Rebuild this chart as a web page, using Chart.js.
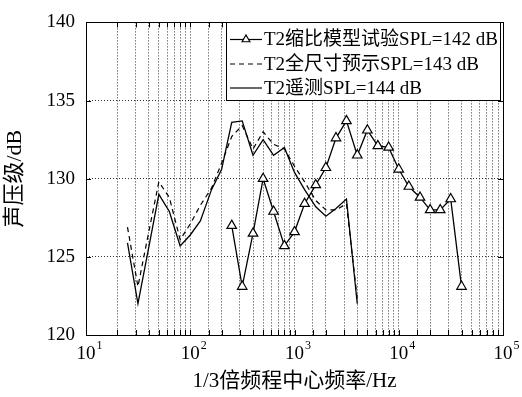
<!DOCTYPE html>
<html>
<head>
<meta charset="utf-8">
<script src="https://cdn.jsdelivr.net/npm/chart.js@4/dist/chart.umd.min.js"></script>
<style>
  html, body { margin: 0; padding: 0; background: #fff; }
  #wrap { width: 522px; height: 397px; }
</style>
</head>
<body>
<div id="wrap"><canvas id="c" width="522" height="397"></canvas></div>
<script>
// ---- data ----
const freqsFull = [25, 31.5, 40, 50, 63, 80, 100, 125, 160, 200, 250, 315, 400, 500, 630, 800, 1000, 1250, 1600, 2000, 2500, 3150, 4000];
const telemetrySPL = [125.9, 122.0, 125.6, 129.0, 127.9, 125.7, 126.4, 127.3, 129.3, 130.6, 133.6, 133.7, 131.5, 132.5, 131.5, 132.0, 130.4, 129.3, 128.2, 127.6, 128.1, 128.7, 122.0];
const predictedSPL = [126.9, 123.1, 126.6, 129.8, 128.8, 126.1, 127.1, 128.3, 129.4, 131.0, 132.7, 133.4, 131.9, 133.0, 132.2, 131.9, 130.8, 129.8, 128.6, 128.0, 128.0, 128.4, 122.3];
const freqsModel = [250, 315, 400, 500, 630, 800, 1000, 1250, 1600, 2000, 2500, 3150, 4000, 5000, 6300, 8000, 10000, 12500, 16000, 20000, 25000, 31500, 40000];
const modelSPL = [127.0, 123.1, 126.5, 130.0, 127.9, 125.7, 126.6, 128.4, 129.6, 130.7, 132.6, 133.7, 131.5, 133.1, 132.1, 132.0, 130.6, 129.5, 128.8, 128.0, 128.0, 128.7, 123.1];
const seriesNames = ['T2缩比模型试验SPL=142 dB', 'T2全尺寸预示SPL=143 dB', 'T2遥测SPL=144 dB'];
const xTickExponents = [1, 2, 3, 4, 5];
const yTicks = [120, 125, 130, 135, 140];
const xTitle = '1/3倍频程中心频率/Hz';
const yTitle = '声压级/dB';

const FONT = "'Liberation Serif','Times New Roman','Noto Sans CJK SC',serif";
Chart.defaults.color = '#000';
Chart.defaults.font.family = FONT;

const toXY = (xs, ys) => xs.map((x, i) => ({ x: x, y: ys[i] }));

const frameTicksLegend = {
  id: 'frameTicksLegend',
  afterDraw(chart) {
    const ctx = chart.ctx;
    const a = chart.chartArea;
    const xs = chart.scales.x, ys = chart.scales.y;
    ctx.save();
    // frame
    ctx.strokeStyle = '#000';
    ctx.lineWidth = 1;
    ctx.setLineDash([]);
    ctx.strokeRect(Math.round(a.left) + 0.5, Math.round(a.top) + 0.5, Math.round(a.right - a.left), Math.round(a.bottom - a.top));
    // inner ticks
    ctx.beginPath();
    xs.ticks.forEach(t => {
      const px = Math.round(xs.getPixelForValue(t.value)) + 0.5;
      ctx.moveTo(px, a.bottom); ctx.lineTo(px, a.bottom - 5);
      ctx.moveTo(px, a.top); ctx.lineTo(px, a.top + 5);
    });
    yTicks.forEach(v => {
      const py = Math.round(ys.getPixelForValue(v)) + 0.5;
      ctx.moveTo(a.left, py); ctx.lineTo(a.left + 5, py);
      ctx.moveTo(a.right, py); ctx.lineTo(a.right - 5, py);
    });
    ctx.stroke();
    // x tick labels 10^n
    ctx.fillStyle = '#000';
    ctx.textBaseline = 'middle';
    xTickExponents.forEach(e => {
      const px = xs.getPixelForValue(Math.pow(10, e));
      ctx.font = '19px ' + FONT;
      ctx.textAlign = 'center';
      const w = ctx.measureText('10').width;
      ctx.fillText('10', px, 354);
      ctx.font = '12px ' + FONT;
      ctx.textAlign = 'left';
      ctx.fillText(String(e), px + w / 2 + 1, 346);
    });
    // legend
    const lx = 226, ly = 22, lw = 274, lh = 78;
    ctx.fillStyle = '#fff';
    ctx.fillRect(lx, ly, lw, lh);
    ctx.strokeStyle = '#000';
    ctx.lineWidth = 1;
    ctx.strokeRect(lx + 0.5, ly + 0.5, lw, lh);
    const rows = [39.5, 64, 88];
    chart.data.datasets.forEach((ds, i) => {
      const y = rows[i];
      ctx.strokeStyle = '#000';
      ctx.lineWidth = 1.2;
      ctx.setLineDash(ds.borderDash || []);
      ctx.beginPath();
      ctx.moveTo(230, y); ctx.lineTo(262, y);
      ctx.stroke();
      ctx.setLineDash([]);
      if (ds.pointRadius > 0) {
        const r = 4.5, cx = 246;
        ctx.beginPath();
        for (let k = 0; k < 3; k++) {
          const ang = k * 2 * Math.PI / 3;
          const X = cx + Math.sin(ang) * r, Y = y - Math.cos(ang) * r;
          if (k === 0) ctx.moveTo(X, Y); else ctx.lineTo(X, Y);
        }
        ctx.closePath();
        ctx.fillStyle = '#fff';
        ctx.fill();
        ctx.stroke();
      }
      ctx.fillStyle = '#000';
      ctx.font = '19px ' + FONT;
      ctx.textAlign = 'left';
      ctx.textBaseline = 'middle';
      ctx.fillText(ds.label, 264, y + 1);
    });
    ctx.restore();
  }
};

new Chart(document.getElementById('c'), {
  type: 'line',
  data: {
    datasets: [
      {
        label: seriesNames[0],
        data: toXY(freqsModel, modelSPL),
        borderColor: '#000', borderWidth: 1.3,
        pointStyle: 'triangle', pointRadius: 5.5, pointBorderWidth: 1.2,
        pointBackgroundColor: '#fff', pointBorderColor: '#000',
        tension: 0
      },
      {
        label: seriesNames[1],
        data: toXY(freqsFull, predictedSPL),
        borderColor: '#000', borderWidth: 1.2, borderDash: [5, 4],
        pointRadius: 0, tension: 0
      },
      {
        label: seriesNames[2],
        data: toXY(freqsFull, telemetrySPL),
        borderColor: '#000', borderWidth: 1.3,
        pointRadius: 0, tension: 0
      }
    ]
  },
  options: {
    responsive: false,
    animation: false,
    events: [],
    layout: { padding: { top: 19, right: 19, left: 0, bottom: 0 } },
    plugins: { legend: { display: false }, tooltip: { enabled: false } },
    scales: {
      x: {
        type: 'logarithmic',
        min: 10, max: 100000,
        afterFit(s) { s.height = 62; },
        ticks: { display: false, autoSkip: false },
        grid: { color: '#333', lineWidth: 1, drawTicks: false },
        border: { display: false, dash: [1, 2] },
        title: { display: true, text: xTitle, font: { size: 21, family: FONT }, padding: { top: 0, bottom: 3 } }
      },
      y: {
        min: 120, max: 140,
        afterBuildTicks(s) { s.ticks = yTicks.map(v => ({ value: v })); },
        afterFit(s) { s.width = 86; },
        ticks: { font: { size: 19, family: FONT }, padding: 11, color: '#000' },
        grid: { color: '#333', lineWidth: 1, drawTicks: false },
        border: { display: false, dash: [1, 2] },
        title: { display: true, text: yTitle, font: { size: 22, family: FONT }, padding: { top: 2, bottom: 0 } }
      }
    }
  },
  plugins: [frameTicksLegend]
});
</script>
</body>
</html>
